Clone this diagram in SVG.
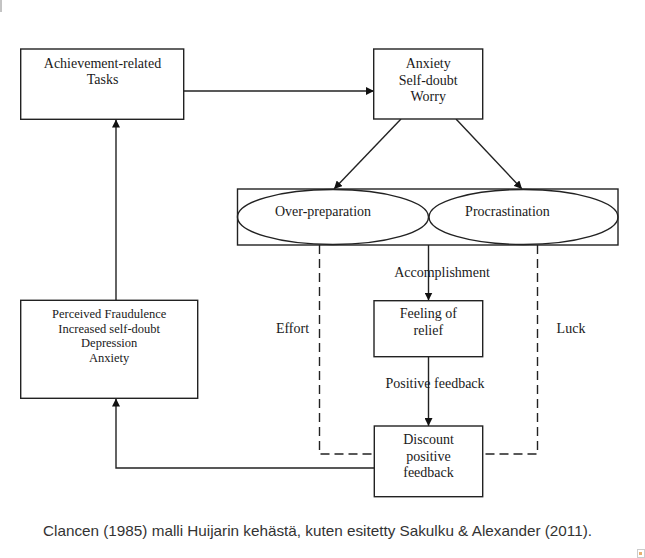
<svg xmlns="http://www.w3.org/2000/svg" width="645" height="558" viewBox="0 0 645 558">
<defs>
<style>
.box{fill:#fff;stroke:#222;stroke-width:1.4}
.t{font-family:"Liberation Serif","Times New Roman",serif;font-size:14px;fill:#1a1a1a;text-anchor:middle}
.s{font-size:12.5px}
.c{stroke:#222;stroke-width:1.4;fill:none}
.d{stroke:#222;stroke-width:1.4;fill:none;stroke-dasharray:9 5}
.cap{font-family:"Liberation Sans",Arial,sans-serif;font-size:15px;fill:#333}
</style>
<marker id="ah" viewBox="0 0 10 10" refX="10" refY="5" markerWidth="8" markerHeight="8" markerUnits="userSpaceOnUse" orient="auto">
<path d="M0,0 L10,5 L0,10 z" fill="#111"/>
</marker>
</defs>
<rect width="645" height="558" fill="#fff"/>
<line x1="1" y1="0" x2="1" y2="12" stroke="#888" stroke-width="1"/>

<g id="connectors">
<line class="c" x1="184" y1="91" x2="374" y2="91" marker-end="url(#ah)"/>
<line class="c" x1="401" y1="119" x2="334" y2="189" marker-end="url(#ah)"/>
<line class="c" x1="456" y1="119" x2="522" y2="189" marker-end="url(#ah)"/>
<line class="c" x1="428.5" y1="245" x2="428.5" y2="300.5" marker-end="url(#ah)"/>
<line class="c" x1="428.5" y1="356.5" x2="428.5" y2="426" marker-end="url(#ah)"/>
<polyline class="c" points="374,468 116,468 116,398.5" marker-end="url(#ah)"/>
<line class="c" x1="116" y1="300" x2="116" y2="119.5" marker-end="url(#ah)"/>
<polyline class="d" points="319.5,245 319.5,454 374,454"/>
<polyline class="d" points="537.5,245 537.5,454 482.5,454"/>
</g>

<g id="labels">
<text class="t" x="442" y="277">Accomplishment</text>
<text class="t" x="435" y="388">Positive feedback</text>
<text class="t" x="292.5" y="333">Effort</text>
<text class="t" x="571" y="333">Luck</text>
</g>

<g id="achievement">
<rect class="box" x="20.7" y="49" width="163" height="70.3"/>
<text class="t" x="102.5" y="68">Achievement-related</text>
<text class="t" x="102.5" y="84">Tasks</text>
</g>

<g id="anxiety">
<rect class="box" x="373.7" y="49" width="109" height="70"/>
<text class="t" x="428.2" y="68">Anxiety</text>
<text class="t" x="428.2" y="85">Self-doubt</text>
<text class="t" x="428.2" y="101">Worry</text>
</g>

<g id="coping">
<rect class="box" x="237.5" y="189" width="380.5" height="56"/>
<ellipse class="c" cx="333" cy="217" rx="95.5" ry="27.5"/>
<ellipse class="c" cx="523.5" cy="217" rx="94.5" ry="27.5"/>
<text class="t" x="323" y="216">Over-preparation</text>
<text class="t" x="507.5" y="216">Procrastination</text>
</g>

<g id="relief">
<rect class="box" x="374" y="300.7" width="108.7" height="56"/>
<text class="t" x="428.3" y="318">Feeling of</text>
<text class="t" x="428.3" y="335">relief</text>
</g>

<g id="discount">
<rect class="box" x="374.3" y="426" width="108.4" height="70.7"/>
<text class="t" x="428.5" y="444">Discount</text>
<text class="t" x="428.5" y="460.7">positive</text>
<text class="t" x="428.5" y="476.7">feedback</text>
</g>

<g id="fraudulence">
<rect class="box" x="20.7" y="300.3" width="177" height="98"/>
<text class="t s" x="109.2" y="318">Perceived Fraudulence</text>
<text class="t s" x="109.2" y="332.7">Increased self-doubt</text>
<text class="t s" x="109.2" y="347.3">Depression</text>
<text class="t s" x="109.2" y="361.7">Anxiety</text>
</g>

<text class="cap" x="43" y="535.5" textLength="549" lengthAdjust="spacingAndGlyphs">Clancen (1985) malli Huijarin kehästä, kuten esitetty Sakulku &amp; Alexander (2011).</text>
<rect x="637.5" y="549.5" width="7" height="8" fill="#fff" stroke="#ccc" stroke-width="1"/>
<rect x="639" y="552" width="3" height="3" fill="#e8b070"/>
</svg>
